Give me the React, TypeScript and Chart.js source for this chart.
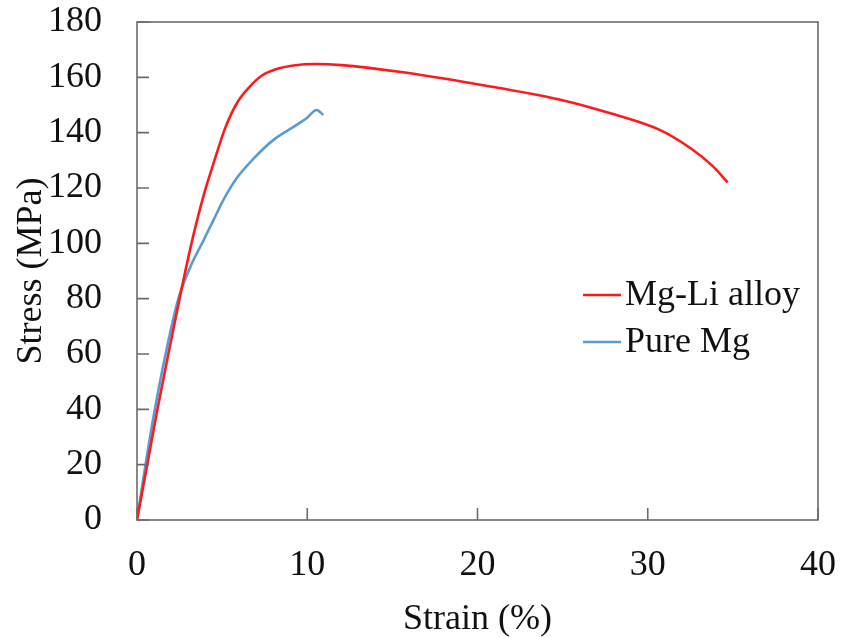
import React, { useEffect, useRef } from "react";
import { Chart, registerables } from "chart.js";

Chart.register(...registerables);

// ---- data ----
const seriesLabels = ["Mg-Li alloy", "Pure Mg"];
const seriesColors = ["#FF1A1A", "#5B9BD5"];

const liStrain = [0, 0.6, 1.2, 1.84, 2.5, 3.2, 3.9, 4.5, 5.2, 5.9, 6.6, 7.3, 8.2, 9.2, 10.5, 12, 15.4, 20, 24.8, 27.8, 30.7, 32.6, 33.8, 34.7];
const liStress = [0, 20, 40, 60, 80, 100, 117, 129, 142, 151, 156.5, 160.5, 163, 164.3, 164.8, 164.4, 162, 157.5, 152, 147, 141, 134, 128, 122];

const mgStrain = [0, 0.5, 1.05, 1.68, 2.43, 3.1, 3.9, 4.5, 5.07, 5.85, 6.83, 8.0, 9.38, 9.96, 10.55, 10.94];
const mgStress = [0, 20, 40, 60, 80, 91, 101, 108.5, 115.6, 123.5, 130.5, 137.3, 142.8, 145.2, 148.2, 146.4];

const xTicks = [0, 10, 20, 30, 40];
const yTicks = [0, 20, 40, 60, 80, 100, 120, 140, 160, 180];

const FONT_FAMILY = "'Liberation Serif', 'Times New Roman', serif";
const FONT_SIZE = 36;

const framePlugin = {
  id: "frameAndTicks",
  afterDatasetsDraw(chart: any) {
    const { ctx, chartArea, scales } = chart;
    const { left, right, top, bottom } = chartArea;
    ctx.save();
    ctx.strokeStyle = "#6b6b6b";
    ctx.lineWidth = 1.6;
    ctx.strokeRect(left, top, right - left, bottom - top);
    const len = 12;
    ctx.beginPath();
    for (const v of yTicks) {
      const y = scales.y.getPixelForValue(v);
      ctx.moveTo(left, y);
      ctx.lineTo(left + len, y);
    }
    for (const v of xTicks) {
      const x = scales.x.getPixelForValue(v);
      ctx.moveTo(x, bottom);
      ctx.lineTo(x, bottom - len);
    }
    ctx.stroke();
    ctx.restore();
  },
};

const legendPlugin = {
  id: "insideLegend",
  afterDraw(chart: any) {
    const { ctx, chartArea } = chart;
    const w = chartArea.right - chartArea.left;
    const h = chartArea.bottom - chartArea.top;
    const x0 = chartArea.left + w * 0.655;
    const lineLen = 38;
    const y0 = chartArea.top + h * 0.548;
    const gap = 47;
    ctx.save();
    ctx.font = `${FONT_SIZE}px ${FONT_FAMILY}`;
    ctx.textBaseline = "middle";
    ctx.textAlign = "left";
    chart.data.datasets.forEach((ds: any, i: number) => {
      const y = y0 + i * gap;
      ctx.strokeStyle = ds.borderColor;
      ctx.lineWidth = 2.5;
      ctx.beginPath();
      ctx.moveTo(x0, y);
      ctx.lineTo(x0 + lineLen, y);
      ctx.stroke();
      ctx.fillStyle = "#111";
      ctx.fillText(ds.label, x0 + lineLen + 4, y + 1);
    });
    ctx.restore();
  },
};

export default function App() {
  const ref = useRef<HTMLCanvasElement | null>(null);

  useEffect(() => {
    if (!ref.current) return;
    const font = { family: FONT_FAMILY, size: FONT_SIZE };
    const chart = new Chart(ref.current, {
      type: "line",
      data: {
        datasets: [
          {
            label: seriesLabels[0],
            data: liStrain.map((x, i) => ({ x, y: liStress[i] })),
            borderColor: seriesColors[0],
            borderWidth: 2.6,
            pointRadius: 0,
            cubicInterpolationMode: "monotone",
            fill: false,
          },
          {
            label: seriesLabels[1],
            data: mgStrain.map((x, i) => ({ x, y: mgStress[i] })),
            borderColor: seriesColors[1],
            borderWidth: 2.6,
            pointRadius: 0,
            cubicInterpolationMode: "monotone",
            fill: false,
          },
        ],
      },
      options: {
        animation: false,
        responsive: false,
        layout: { padding: { top: 22, right: 24, bottom: 0, left: 0 } },
        plugins: {
          legend: { display: false },
          tooltip: { enabled: false },
        },
        scales: {
          x: {
            type: "linear",
            min: 0,
            max: 40,
            afterBuildTicks: (s: any) => {
              s.ticks = xTicks.map((v) => ({ value: v }));
            },
            afterFit: (s: any) => {
              s.height = 117;
              s.paddingLeft = 0;
              s.paddingRight = 0;
            },
            grid: { display: false, drawTicks: false },
            border: { display: false },
            ticks: { font, color: "#111", padding: 24, maxRotation: 0, autoSkip: false },
            title: {
              display: true,
              text: "Strain (%)",
              font,
              color: "#111",
              padding: { top: 0, bottom: -4 },
            },
          },
          y: {
            type: "linear",
            min: 0,
            max: 180,
            afterBuildTicks: (s: any) => {
              s.ticks = yTicks.map((v) => ({ value: v }));
            },
            afterFit: (s: any) => {
              s.width = 137;
              s.paddingTop = 0;
              s.paddingBottom = 0;
            },
            grid: { display: false, drawTicks: false },
            border: { display: false },
            ticks: { font, color: "#111", padding: 35, autoSkip: false },
            title: {
              display: true,
              text: "Stress (MPa)",
              font,
              color: "#111",
              padding: { top: 10, bottom: 0 },
            },
          },
        },
      },
      plugins: [framePlugin, legendPlugin],
    } as any);
    return () => chart.destroy();
  }, []);

  return (
    <div style={{ position: "fixed", left: 0, top: 0, width: 842, height: 637, background: "#fff" }}>
      <canvas ref={ref} width={842} height={637} style={{ width: 842, height: 637 }} />
    </div>
  );
}
